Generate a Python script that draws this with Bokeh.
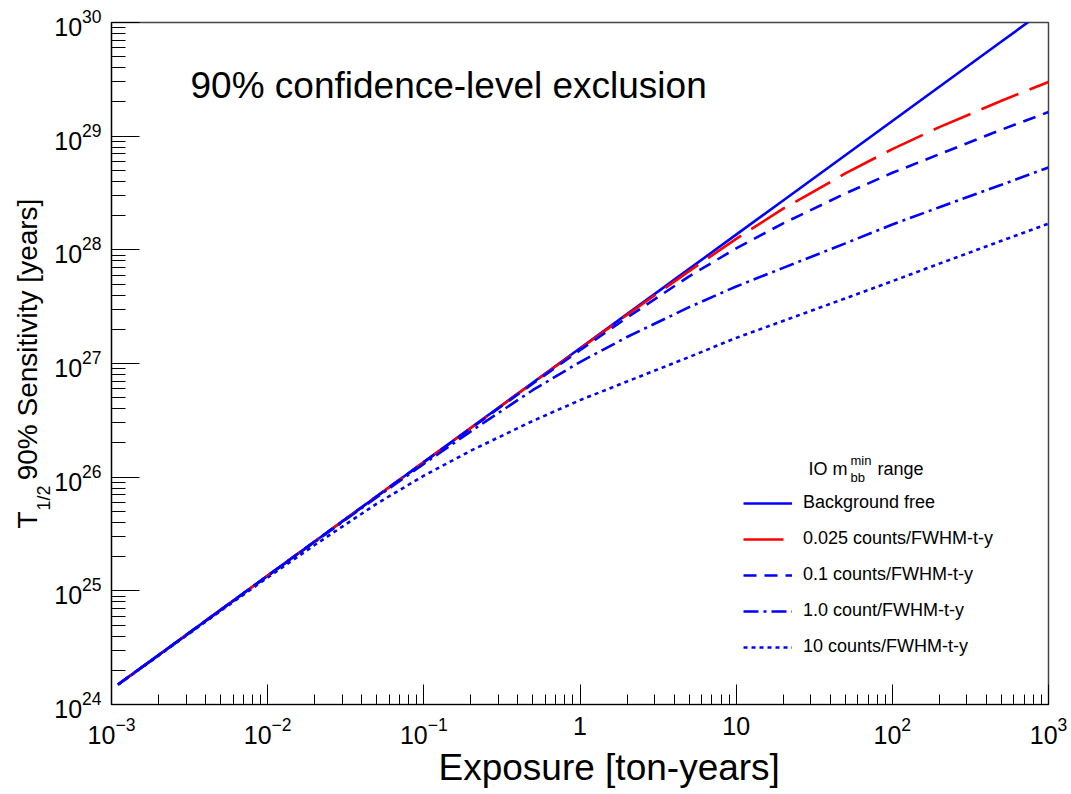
import math
from bokeh.plotting import figure
from bokeh.models import Label, Legend, LegendItem, LogTickFormatter, Title
from bokeh.embed import file_html
from bokeh.resources import INLINE

# ---------------- data ----------------
exposure = [1.1e-3, 2e-3, 5e-3, 1e-2, 2e-2, 5e-2, 0.1, 0.2, 0.5, 1, 2, 5,
            10, 20, 50, 100, 200, 500, 1000]

t_bkg_free = [1.50e24, 2.72e24, 6.8e24, 1.36e25, 2.72e25, 6.8e25, 1.36e26,
              2.72e26, 6.8e26, 1.36e27, 2.72e27, 6.8e27, 1.36e28, 2.72e28,
              6.8e28, 1.36e29, 2.72e29, 6.8e29, 1.36e30]

t_bkg_0025 = [1.50e24, 2.72e24, 6.8e24, 1.36e25, 2.72e25, 6.8e25, 1.36e26,
              2.71e26, 6.77e26, 1.35e27, 2.68e27, 6.5e27, 1.25e28, 2.3e28,
              4.7e28, 7.7e28, 1.2e29, 2.05e29, 3.0e29]

t_bkg_01 = [1.50e24, 2.72e24, 6.8e24, 1.36e25, 2.72e25, 6.79e25, 1.355e26,
            2.69e26, 6.66e26, 1.31e27, 2.53e27, 5.85e27, 1.03e28, 1.71e28,
            3.13e28, 4.76e28, 6.94e28, 1.14e29, 1.63e29]

t_bkg_1 = [1.50e24, 2.71e24, 6.79e24, 1.353e25, 2.69e25, 6.66e25, 1.31e26,
           2.53e26, 5.85e26, 1.03e27, 1.71e27, 3.13e27, 4.76e27, 6.94e27,
           1.14e28, 1.67e28, 2.37e28, 3.74e28, 5.3e28]

t_bkg_10 = [1.49e24, 2.69e24, 6.66e24, 1.31e25, 2.53e25, 5.85e25, 1.03e26,
            1.71e26, 3.13e26, 4.76e26, 6.94e26, 1.14e27, 1.68e27, 2.37e27,
            3.74e27, 5.3e27, 7.56e27, 1.2e28, 1.7e28]

series_labels = ["Background free", "0.025 counts/FWHM-t-y",
                 "0.1 counts/FWHM-t-y", "1.0 count/FWHM-t-y",
                 "10 counts/FWHM-t-y"]

x_tick_overrides = {1: "1", 10: "10"}

FONT = "Liberation Sans"
NB = "\u00a0"

# ---------------- figure ----------------
W, H = 1071, 794
FL, FT, FR, FB = 111, 22, 1048, 704   # frame edges in picture pixels
p = figure(width=W, height=H, x_axis_type="log", y_axis_type="log",
           x_range=(1e-3, 1e3), y_range=(1e24, 1e30),
           output_backend="svg", toolbar_location=None,
           min_border_left=FL, min_border_right=W - FR,
           min_border_top=FT, min_border_bottom=H - FB)
p.background_fill_color = "white"
p.border_fill_color = "white"
p.outline_line_color = "#444444"
p.outline_line_width = 1.5
p.grid.visible = False

for ax in (p.xaxis[0], p.yaxis[0]):
    ax.formatter = LogTickFormatter()
    ax.major_label_text_font = FONT
    ax.major_label_text_font_size = "25px"
    ax.major_label_text_color = "black"
    ax.axis_line_color = "black"
    ax.axis_line_width = 1.2
    ax.major_tick_line_color = "black"
    ax.minor_tick_line_color = "black"
    ax.major_tick_out = 0
    ax.minor_tick_out = 0

p.xaxis.major_tick_in = 20
p.xaxis.minor_tick_in = 10
p.yaxis.major_tick_in = 28
p.yaxis.minor_tick_in = 14
p.xaxis.major_label_standoff = 12
p.yaxis.major_label_standoff = 10
p.xaxis.major_label_overrides = x_tick_overrides

blue = "#0000ff"
red = "#ff0000"
r0 = p.line(exposure, t_bkg_free, line_color=blue, line_width=2.6)
r1 = p.line(exposure, t_bkg_0025, line_color=red, line_width=2.6, line_dash="40 12")
r2 = p.line(exposure, t_bkg_01, line_color=blue, line_width=2.6, line_dash="13 8")
r3 = p.line(exposure, t_bkg_1, line_color=blue, line_width=2.6, line_dash="15 5 3 5")
r4 = p.line(exposure, t_bkg_10, line_color=blue, line_width=2.6, line_dash="4 4")

legend = Legend(items=[LegendItem(label=l, renderers=[r]) for l, r in
                       zip(series_labels, [r0, r1, r2, r3, r4])],
                location=(743 - FL, FB - 657), padding=0, margin=0, spacing=15,
                glyph_width=49, glyph_height=20, label_height=20,
                label_standoff=11, label_text_font=FONT,
                label_text_color="black",
                label_text_font_size="18px", border_line_color=None,
                background_fill_alpha=0)
p.add_layout(legend)

# in-frame annotations, screen pixels relative to the frame's bottom-left
def lab(text, px, py, size_px):
    corr = 0.38 * size_px   # baseline correction
    p.add_layout(Label(x=px - FL, y=FB - py + corr, x_units="screen",
                       y_units="screen", text=text, text_font=FONT,
                       text_font_size=f"{size_px}px", text_align="left",
                       text_baseline="alphabetic", text_color="black"))

lab("90% confidence-level exclusion", 190, 99, 37)
# legend header: IO m_bb^min range
lab("IO m", 808, 475, 18)
lab("min", 850, 465, 13)
lab("bb", 850, 482, 13)
lab("range", 877, 475, 18)

# axis titles as side-panel titles
xt = Title(text="Exposure [ton-years]", align="left", offset=438 - FL,
           vertical_align="top", standoff=0, text_font=FONT,
           text_font_size="37px", text_font_style="normal", text_color="black")
p.add_layout(xt, "below")

yt_sub = Title(text="1/2", align="left", offset=FB - 510, vertical_align="bottom",
               standoff=-4, text_font=FONT, text_font_size="18px",
               text_font_style="normal", text_color="black")
p.add_layout(yt_sub, "left")
yt_main = Title(text="T" + NB * 4 + "90% Sensitivity [years]", align="left",
                offset=FB - 528, vertical_align="bottom", standoff=-18,
                text_font=FONT, text_font_size="28px",
                text_font_style="normal", text_color="black")
p.add_layout(yt_main, "left")

open("out.html", "w").write(file_html(p, INLINE))
